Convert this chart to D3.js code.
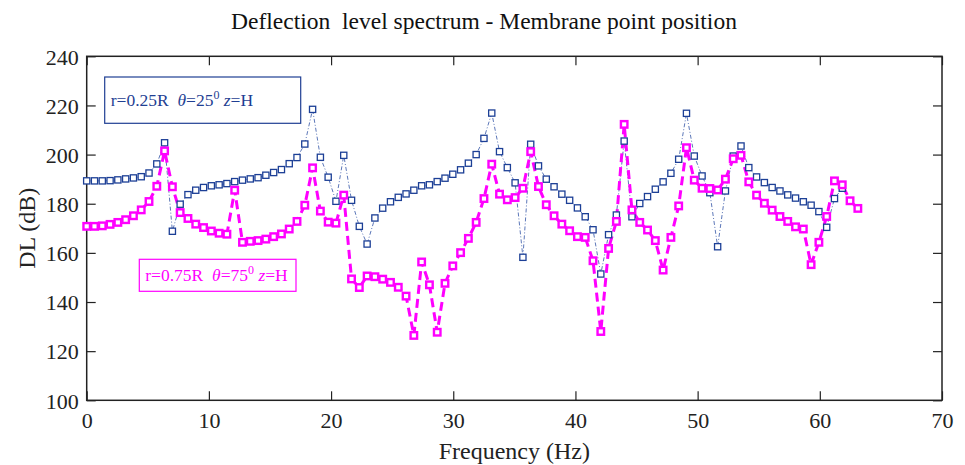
<!DOCTYPE html>
<html>
<head>
<meta charset="utf-8">
<script src="https://cdn.jsdelivr.net/npm/d3@7"></script>
<style>
  body { margin: 0; background: #fff; }
  svg text { font-family: "Liberation Serif", "DejaVu Serif", serif !important; }
</style>
</head>
<body>
<div id="chart"></div>
<script>
// sampling step of the spectrum (Hz)
var freqStep = 0.6375;

// DL values (dB), one per frequency bin
var dlInner = [189.3, 189.3, 189.3, 189.4, 189.7, 190.1, 190.5, 191.0, 192.5, 196.2,
    204.8, 168.8, 179.8, 183.7, 185.5, 186.6, 187.3, 187.7, 188.2, 189.0,
    189.6, 190.1, 190.6, 191.6, 192.7, 193.9, 196.3, 198.8, 204.3, 218.4,
    198.9, 190.8, 181.0, 199.7, 181.4, 170.8, 163.6, 174.2, 178.2, 180.8,
    182.6, 184.0, 185.5, 187.3, 187.7, 189.0, 190.4, 192.0, 193.8, 196.5,
    200.0, 206.6, 216.9, 201.2, 194.7, 188.5, 158.2, 204.2, 195.4, 190.0,
    186.9, 183.9, 181.4, 178.3, 174.7, 169.4, 151.4, 167.4, 175.4, 205.5,
    174.7, 180.1, 182.9, 185.9, 188.9, 192.4, 198.1, 216.8, 199.4, 191.3,
    184.5, 162.5, 185.2, 199.4, 203.5, 194.7, 190.9, 188.6, 186.6, 185.2,
    183.6, 182.3, 180.8, 179.4, 176.8, 170.4, 182.1, 186.3];

var dlOuter = [170.8, 170.8, 171.0, 171.6, 172.4, 173.5, 175.1, 177.5, 180.9, 187.1,
    201.5, 186.9, 176.4, 174.0, 171.7, 170.3, 168.9, 168.0, 167.6, 185.5,
    164.3, 164.7, 165.0, 165.6, 166.6, 167.7, 169.7, 172.8, 179.4, 194.6,
    177.0, 172.5, 172.1, 183.5, 149.4, 145.9, 150.6, 150.3, 149.3, 148.0,
    146.0, 142.4, 126.4, 156.3, 147.0, 127.7, 147.6, 154.7, 160.1, 165.9,
    172.4, 182.1, 196.1, 183.9, 181.6, 182.5, 186.3, 201.2, 187.0, 179.6,
    175.1, 171.7, 169.0, 166.6, 166.3, 156.8, 128.0, 161.8, 172.8, 212.3,
    177.5, 172.4, 169.3, 165.0, 153.0, 166.3, 179.1, 202.8, 189.6, 186.3,
    186.2, 185.6, 190.0, 198.3, 199.7, 188.9, 183.5, 180.2, 177.4, 174.8,
    172.8, 170.6, 169.7, 155.2, 164.3, 174.8, 189.3, 187.7, 181.2, 178.1];

var xTicks = [0, 10, 20, 30, 40, 50, 60, 70];
var yTicks = [100, 120, 140, 160, 180, 200, 220, 240];

function draw() {
    var w = 965;
    var h = 465;
    var margin = { top: 56.3, right: 23, bottom: 64.7, left: 86.7 };
    var serif = "'Liberation Serif', 'DejaVu Serif', serif";

    var svg = d3.select("#chart")
        .append("svg")
        .attr("width", w)
        .attr("height", h)
        .style("font-family", serif);

    // scales
    var x = d3.scaleLinear()
        .domain([0, 70])
        .range([margin.left, w - margin.right]);
    var y = d3.scaleLinear()
        .domain([100, 240])
        .range([h - margin.bottom, margin.top]);

    // axes, ticks pointing inward on all four sides
    var tickLen = 9;
    svg.append("g")
        .attr("transform", "translate(0," + y(100) + ")")
        .call(d3.axisBottom(x).tickValues(xTicks).tickSizeInner(-tickLen).tickSizeOuter(0).tickPadding(12))
        .call(function(g) {
            g.select(".domain").remove();
            g.attr("font-family", null);
            g.selectAll("text").attr("font-size", "22px").attr("fill", "#222")
                .style("font-family", serif);
        });
    svg.append("g")
        .attr("transform", "translate(0," + y(240) + ")")
        .call(d3.axisTop(x).tickValues(xTicks).tickSizeInner(-tickLen).tickSizeOuter(0).tickFormat(""))
        .call(function(g) { g.select(".domain").remove(); });
    svg.append("g")
        .attr("transform", "translate(" + x(0) + ",0)")
        .call(d3.axisLeft(y).tickValues(yTicks).tickSizeInner(-tickLen).tickSizeOuter(0).tickPadding(8))
        .call(function(g) {
            g.select(".domain").remove();
            g.attr("font-family", null);
            g.selectAll("text").attr("font-size", "22px").attr("fill", "#222")
                .style("font-family", serif).attr("dy", "0.35em");
        });
    svg.append("g")
        .attr("transform", "translate(" + x(70) + ",0)")
        .call(d3.axisRight(y).tickValues(yTicks).tickSizeInner(-tickLen).tickSizeOuter(0).tickFormat(""))
        .call(function(g) { g.select(".domain").remove(); });
    svg.selectAll(".tick line").attr("stroke", "#222").attr("stroke-width", 1.2);

    // frame
    svg.append("rect")
        .attr("x", x(0))
        .attr("y", y(240))
        .attr("width", x(70) - x(0))
        .attr("height", y(100) - y(240))
        .attr("fill", "none")
        .attr("stroke", "#222")
        .attr("stroke-width", 1.5);

    // titles
    svg.append("text")
        .attr("x", 484)
        .attr("y", 29)
        .attr("text-anchor", "middle")
        .attr("font-size", "23.5px")
        .attr("fill", "#111")
        .attr("xml:space", "preserve")
        .style("font-family", serif)
        .text("Deflection  level spectrum - Membrane point position");
    svg.append("text")
        .attr("x", (x(0) + x(70)) / 2)
        .attr("y", 459)
        .attr("text-anchor", "middle")
        .attr("font-size", "24px")
        .attr("fill", "#222")
        .style("font-family", serif)
        .text("Frequency (Hz)");
    svg.append("text")
        .attr("transform", "translate(35," + (y(170)) + ") rotate(-90)")
        .attr("text-anchor", "middle")
        .attr("font-size", "24px")
        .attr("fill", "#222")
        .style("font-family", serif)
        .text("DL (dB)");

    var line = d3.line()
        .x(function(d, i) { return x(i * freqStep); })
        .y(function(d) { return y(d); });

    // r=0.25R series: thin dash-dot line, small navy squares
    svg.append("path")
        .datum(dlInner)
        .attr("d", line)
        .attr("fill", "none")
        .attr("stroke", "#4a68b0")
        .attr("stroke-width", 0.9)
        .attr("stroke-dasharray", "4,2,1,2");

    // r=0.75R series: thick dashed magenta line
    svg.append("path")
        .datum(dlOuter)
        .attr("d", line)
        .attr("fill", "none")
        .attr("stroke", "#ff00ff")
        .attr("stroke-width", 3)
        .attr("stroke-dasharray", "9,5");

    var s1 = 6.2;
    svg.selectAll("rect.inner")
        .data(dlInner)
        .enter()
        .append("rect")
        .attr("class", "inner")
        .attr("x", function(d, i) { return x(i * freqStep) - s1 / 2; })
        .attr("y", function(d) { return y(d) - s1 / 2; })
        .attr("width", s1)
        .attr("height", s1)
        .attr("fill", "white")
        .attr("stroke", "#1c3f96")
        .attr("stroke-width", 1.3);

    var s2 = 6.5;
    svg.selectAll("rect.outer")
        .data(dlOuter)
        .enter()
        .append("rect")
        .attr("class", "outer")
        .attr("x", function(d, i) { return x(i * freqStep) - s2 / 2; })
        .attr("y", function(d) { return y(d) - s2 / 2; })
        .attr("width", s2)
        .attr("height", s2)
        .attr("fill", "white")
        .attr("stroke", "#ff00ff")
        .attr("stroke-width", 2.4);

    // legend boxes
    function legend(bx, by, bw, bh, col, r, th) {
        svg.append("rect")
            .attr("x", bx).attr("y", by)
            .attr("width", bw).attr("height", bh)
            .attr("fill", "white")
            .attr("stroke", col)
            .attr("stroke-width", 1.2);
        var t = svg.append("text")
            .attr("x", bx + 6)
            .attr("y", by + bh / 2 + 6)
            .attr("font-size", "17.5px")
            .attr("fill", col)
            .attr("xml:space", "preserve")
            .style("font-family", serif);
        t.append("tspan").text("r=" + r + "R  ");
        t.append("tspan").attr("font-style", "italic").text("\u03b8");
        t.append("tspan").text("=" + th);
        t.append("tspan").attr("font-size", "12px").attr("dy", "-7").text("0");
        t.append("tspan").attr("dy", "7").text(" ");
        t.append("tspan").attr("font-style", "italic").text("z");
        t.append("tspan").text("=H");
    }
    legend(104.7, 77, 196, 46.3, "#1f3f93", "0.25", "25");
    legend(139.3, 259.3, 156.7, 32, "#ff00ff", "0.75", "75");
}

window.onload = draw;
</script>
</body>
</html>
